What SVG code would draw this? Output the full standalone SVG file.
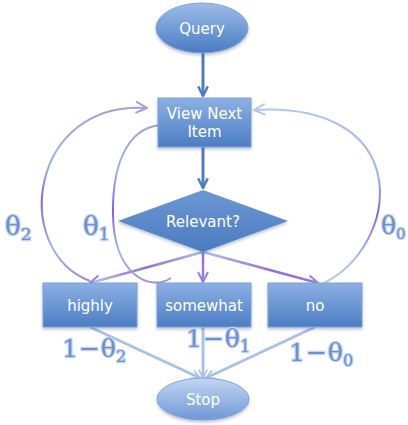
<svg xmlns="http://www.w3.org/2000/svg" width="408" height="425" viewBox="0 0 408 425">
  <defs>
    <style>
      .node-text { font-family: "DejaVu Sans", "Open Sans", sans-serif; font-size: 15px; fill: #ffffff; text-anchor: middle; }
      .box { fill: url(#boxFill); stroke: #7ea2d8; stroke-width: 1; filter: url(#shadow); }
      .main { fill: none; stroke: #4f7cbd; stroke-width: 3; }
      .branch { fill: none; stroke-width: 2.5; }
      .loop { fill: none; stroke-width: 2; }
      .exit { fill: none; stroke: #a8c2e8; stroke-width: 3; }
      .prob { font-family: "DejaVu Serif", "Liberation Serif", serif; fill: #6d8fcc; stroke: #c6d6f0; stroke-width: 2.4; paint-order: stroke; stroke-linejoin: round; }
    </style>
    <linearGradient id="boxFill" x1="0" y1="0" x2="0" y2="1">
      <stop offset="0" stop-color="#8cb0e3"/>
      <stop offset="1" stop-color="#4c7dc3"/>
    </linearGradient>
    <linearGradient id="queryFill" x1="0" y1="0" x2="0" y2="1">
      <stop offset="0" stop-color="#9dbde9"/>
      <stop offset="1" stop-color="#4a7bc2"/>
    </linearGradient>
    <linearGradient id="stopFill" x1="0" y1="0" x2="0" y2="1">
      <stop offset="0" stop-color="#c3d7f2"/>
      <stop offset="1" stop-color="#6f98d6"/>
    </linearGradient>
    <linearGradient id="diamondFill" x1="0" y1="0" x2="0" y2="1">
      <stop offset="0" stop-color="#6e97d4"/>
      <stop offset="1" stop-color="#4a7bc1"/>
    </linearGradient>
    <linearGradient id="branchL" gradientUnits="userSpaceOnUse" x1="203" y1="252" x2="90" y2="283">
      <stop offset="0" stop-color="#a6c0e8"/>
      <stop offset="0.5" stop-color="#9a6fd8"/>
      <stop offset="1" stop-color="#b3c4ec"/>
    </linearGradient>
    <linearGradient id="branchM" gradientUnits="userSpaceOnUse" x1="0" y1="252" x2="0" y2="283">
      <stop offset="0" stop-color="#8c74d4"/>
      <stop offset="1" stop-color="#a47be0"/>
    </linearGradient>
    <linearGradient id="branchR" gradientUnits="userSpaceOnUse" x1="203" y1="252" x2="318" y2="283">
      <stop offset="0" stop-color="#a8c4ea"/>
      <stop offset="0.6" stop-color="#9a70d8"/>
      <stop offset="1" stop-color="#9c74da"/>
    </linearGradient>
    <linearGradient id="loopOuter" gradientUnits="userSpaceOnUse" x1="0" y1="100" x2="0" y2="285">
      <stop offset="0" stop-color="#aa9ad6"/>
      <stop offset="0.35" stop-color="#93b4e2"/>
      <stop offset="0.55" stop-color="#8a62cf"/>
      <stop offset="0.8" stop-color="#9fb8e4"/>
      <stop offset="1" stop-color="#8f8ad2"/>
    </linearGradient>
    <linearGradient id="loopInner" gradientUnits="userSpaceOnUse" x1="0" y1="120" x2="0" y2="285">
      <stop offset="0" stop-color="#a997d8"/>
      <stop offset="0.3" stop-color="#9cb9e6"/>
      <stop offset="0.55" stop-color="#8a60cf"/>
      <stop offset="0.8" stop-color="#a1bce6"/>
      <stop offset="1" stop-color="#9b8fd6"/>
    </linearGradient>
    <linearGradient id="loopRight" gradientUnits="userSpaceOnUse" x1="0" y1="105" x2="0" y2="285">
      <stop offset="0" stop-color="#b4c6ee"/>
      <stop offset="0.4" stop-color="#9cb3e6"/>
      <stop offset="0.6" stop-color="#8a62cf"/>
      <stop offset="0.85" stop-color="#a8c0ea"/>
      <stop offset="1" stop-color="#b9cbef"/>
    </linearGradient>
    <marker id="headMain" viewBox="0 0 10 10" refX="9" refY="5" markerWidth="4" markerHeight="4" orient="auto" markerUnits="strokeWidth">
      <path d="M1,1 L9,5 L1,9" fill="none" stroke="#4f7cbd" stroke-width="2"/>
    </marker>
    <marker id="headPurple" viewBox="0 0 10 10" refX="9" refY="5" markerWidth="5" markerHeight="5" orient="auto" markerUnits="strokeWidth">
      <path d="M1,1 L9,5 L1,9" fill="none" stroke="#9e7ddc" stroke-width="1.6"/>
    </marker>
    <marker id="headLoop" viewBox="0 0 10 10" refX="9" refY="5" markerWidth="7" markerHeight="7" orient="auto" markerUnits="strokeWidth">
      <path d="M1,1 L9,5 L1,9" fill="none" stroke="#a99ad8" stroke-width="1.4"/>
    </marker>
    <marker id="headLoopR" viewBox="0 0 10 10" refX="9" refY="5" markerWidth="7" markerHeight="7" orient="auto" markerUnits="strokeWidth">
      <path d="M1,1 L9,5 L1,9" fill="none" stroke="#b4c6ee" stroke-width="1.4"/>
    </marker>
    <marker id="headExit" viewBox="0 0 10 10" refX="9" refY="5" markerWidth="3.5" markerHeight="3.5" orient="auto" markerUnits="strokeWidth">
      <path d="M1,1 L9,5 L1,9" fill="none" stroke="#a8c2e8" stroke-width="1.6"/>
    </marker>
    <filter id="shadow" x="-20%" y="-20%" width="140%" height="150%">
      <feDropShadow dx="0" dy="2" stdDeviation="1.5" flood-color="#1f3d6b" flood-opacity="0.3"/>
    </filter>
  </defs>

  <rect width="408" height="425" fill="#ffffff"/>

  <!-- connectors -->
  <g id="connectors">
    <path class="main" d="M203,53 L203,96" marker-end="url(#headMain)"/>
    <path class="main" d="M203,147 L203,188" marker-end="url(#headMain)"/>
    <path class="branch" stroke="url(#branchL)" d="M203,252 L90,283" marker-end="url(#headPurple)"/>
    <path class="branch" stroke="url(#branchM)" d="M203,252 L203,282" marker-end="url(#headPurple)"/>
    <path class="branch" stroke="url(#branchR)" d="M203,252 L318,283" marker-end="url(#headPurple)"/>
    <path class="loop" stroke="url(#loopOuter)" d="M90,281 C10,250 30,100 147,108" marker-end="url(#headLoop)"/>
    <path class="loop" stroke="url(#loopInner)" d="M171,278 C150,292 114,275 113,215 C112,160 130,122 170,125" marker-end="url(#headLoop)"/>
    <path class="loop" stroke="url(#loopRight)" d="M324,283 C360,265 385,222 379,180 C371,130 322,106 254,110" marker-end="url(#headLoopR)"/>
    <path class="exit" d="M90,327 L200,378" marker-end="url(#headExit)"/>
    <path class="exit" d="M203,327 L203,378" marker-end="url(#headExit)"/>
    <path class="exit" d="M315,327 L206,378" marker-end="url(#headExit)"/>
  </g>

  <g id="query">
    <ellipse cx="202" cy="28" rx="46" ry="25" fill="url(#queryFill)" stroke="#7ea2d8" stroke-width="1" filter="url(#shadow)"/>
    <text class="node-text" x="202" y="34">Query</text>
  </g>

  <g id="view-next-item">
    <rect class="box" x="158" y="98" width="93" height="49"/>
    <text class="node-text" x="204.5" y="119">View Next</text>
    <text class="node-text" x="204.5" y="137">Item</text>
  </g>

  <g id="relevant">
    <polygon points="203,190 288,221 203,252 118,221" fill="url(#diamondFill)" filter="url(#shadow)"/>
    <text class="node-text" x="203" y="227">Relevant?</text>
  </g>

  <g id="highly">
    <rect class="box" x="43" y="283" width="94" height="44"/>
    <text class="node-text" x="90" y="311">highly</text>
  </g>

  <g id="somewhat">
    <rect class="box" x="157" y="283" width="94" height="44"/>
    <text class="node-text" x="204" y="311">somewhat</text>
  </g>

  <g id="no">
    <rect class="box" x="268" y="283" width="94" height="44"/>
    <text class="node-text" x="315" y="311">no</text>
  </g>

  <g id="stop">
    <ellipse cx="203" cy="399" rx="46" ry="21" fill="url(#stopFill)" stroke="#7ea2d8" stroke-width="1" filter="url(#shadow)"/>
    <text class="node-text" x="203" y="405">Stop</text>
  </g>

  <!-- transition probabilities -->
  <g id="labels">
    <text class="prob" x="5" y="235" font-size="26">θ<tspan font-size="17" dy="5">2</tspan></text>
    <text class="prob" x="83" y="235" font-size="26">θ<tspan font-size="17" dy="5">1</tspan></text>
    <text class="prob" x="381" y="234" font-size="25">θ<tspan font-size="15" dy="5">0</tspan></text>
    <text class="prob" x="62" y="357" font-size="25">1<tspan dx="1">−</tspan><tspan dx="1">θ</tspan><tspan font-size="16" dy="5">2</tspan></text>
    <text class="prob" x="186" y="347" font-size="25">1<tspan dx="1">−</tspan><tspan dx="1">θ</tspan><tspan font-size="16" dy="5">1</tspan></text>
    <text class="prob" x="289" y="361" font-size="25">1<tspan dx="1">−</tspan><tspan dx="1">θ</tspan><tspan font-size="16" dy="5">0</tspan></text>
  </g>
</svg>
